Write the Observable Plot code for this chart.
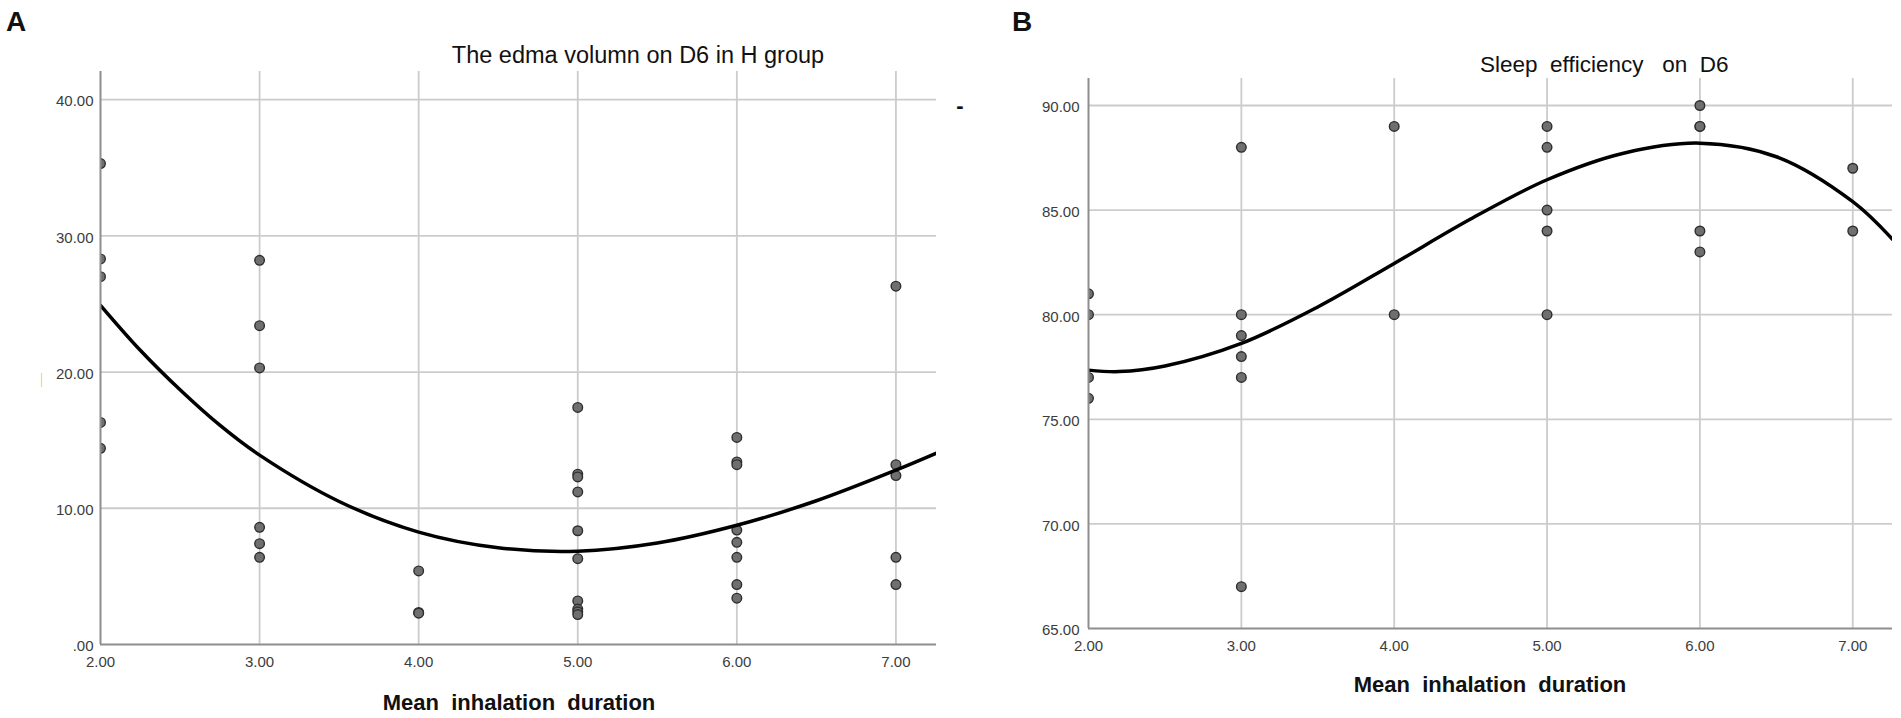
<!DOCTYPE html>
<html><head><meta charset="utf-8">
<script src="https://cdn.jsdelivr.net/npm/d3@7"></script>
<script src="https://cdn.jsdelivr.net/npm/@observablehq/plot@0.6"></script>
<style>
html,body{margin:0;padding:0;background:#fff;}
#wrap{position:relative;width:1901px;height:718px;overflow:hidden;font-family:"Liberation Sans",Arial,sans-serif;}
#wrap > svg{position:absolute;}
</style></head><body><div id="wrap"></div>
<script>
// ---- data ----
const durations = [2, 3, 4, 5, 6, 7];
const xTickLabels = ["2.00", "3.00", "4.00", "5.00", "6.00", "7.00"];

const yTicksA = [0, 10, 20, 30, 40];
const yTickLabelsA = [".00", "10.00", "20.00", "30.00", "40.00"];
const yTicksB = [65, 70, 75, 80, 85, 90];
const yTickLabelsB = ["65.00", "70.00", "75.00", "80.00", "85.00", "90.00"];

// edema volume on D6 (H group), one list per duration
const edemaA = [
  [35.3, 28.3, 27.0, 16.3, 14.4],
  [28.2, 23.4, 20.3, 8.6, 7.4, 6.4],
  [5.4, 2.35, 2.3],
  [17.4, 12.5, 12.3, 11.2, 8.35, 6.3, 3.2, 2.6, 2.4, 2.2],
  [15.2, 13.4, 13.2, 8.4, 7.5, 6.4, 4.4, 3.4],
  [26.3, 13.2, 12.4, 6.4, 4.4]
];
// sleep efficiency on D6
const sleepB = [
  [81, 80, 77, 76],
  [88, 80, 79, 78, 77, 67],
  [89, 80],
  [89, 88, 85, 84, 80],
  [90, 89, 89, 84, 83],
  [87, 84]
];
// fitted curves
const fitXA = [2, 2.25, 2.5, 2.75, 3, 3.5, 4, 4.5, 5, 5.5, 6, 6.5, 7, 7.255];
const fitYA = [24.9, 21.6, 18.7, 16.1, 13.9, 10.5, 8.25, 7.1, 6.85, 7.45, 8.75, 10.55, 12.8, 14.05];
const fitXB = [2, 2.2, 2.5, 3, 3.5, 4, 4.5, 5, 5.5, 6, 6.5, 7, 7.26];
const fitYB = [77.35, 77.28, 77.55, 78.63, 80.37, 82.45, 84.57, 86.45, 87.72, 88.2, 87.55, 85.4, 83.6];

// ---- build ----
const FONT = '"Liberation Sans", Arial, sans-serif';
const toRows = (groups) => groups.flatMap((vals, i) => vals.map(v => ({x: durations[i], y: v})));
const fitRows = (xs, ys) => xs.map((x, i) => ({x, y: ys[i]}));

function panel({width, height, margins, xDomain, yDomain, yTicks, yLabels, points, fit, yPad}) {
  return Plot.plot({
    width, height,
    marginLeft: margins[0], marginRight: margins[1], marginTop: margins[2], marginBottom: margins[3],
    style: {fontFamily: FONT, fontSize: "15px", color: "#3c3c3c", background: "transparent", overflow: "visible"},
    x: {domain: xDomain},
    y: {domain: yDomain},
    marks: [
      Plot.gridX(durations.slice(1), {stroke: "#cccccc", strokeOpacity: 1, strokeWidth: 1.8}),
      Plot.gridY(yTicks.slice(1), {stroke: "#cccccc", strokeOpacity: 1, strokeWidth: 1.8}),
      Plot.axisX(durations, {tickSize: 0, tickPadding: 12, label: null, fontSize: 15,
        tickFormat: d => xTickLabels[durations.indexOf(d)]}),
      Plot.axisY(yTicks, {tickSize: 0, tickPadding: yPad, label: null, fontSize: 15, dy: 2,
        tickFormat: d => yLabels[yTicks.indexOf(d)]}),
      Plot.dot(points, {x: "x", y: "y", r: 4.8, fill: "#6f6f6f", stroke: "#2e2e2e", strokeWidth: 1.4, clip: true}),
      Plot.line(fit, {x: "x", y: "y", curve: "catmull-rom", stroke: "#000", strokeWidth: 3.5, clip: true}),
      Plot.ruleX([xDomain[0]], {stroke: "#8e8e8e", strokeWidth: 2}),
      Plot.ruleY([yDomain[0]], {stroke: "#8e8e8e", strokeWidth: 2})
    ]
  });
}

const wrap = document.getElementById("wrap");

const plotA = panel({
  width: 960, height: 718, margins: [100, 24, 71, 74],
  xDomain: [2, 7.255], yDomain: [0, 42.06],
  yTicks: yTicksA, yLabels: yTickLabelsA, yPad: 7,
  points: toRows(edemaA), fit: fitRows(fitXA, fitYA)
});
plotA.style.left = "0px"; plotA.style.top = "0px";
wrap.appendChild(plotA);

const plotB = panel({
  width: 941, height: 718, margins: [128, 9, 78, 90],
  xDomain: [2, 7.26], yDomain: [65, 91.29],
  yTicks: yTicksB, yLabels: yTickLabelsB, yPad: 9,
  points: toRows(sleepB), fit: fitRows(fitXB, fitYB)
});
plotB.style.left = "960px"; plotB.style.top = "0px";
wrap.appendChild(plotB);

// ---- text overlay ----
const svg = d3.select(wrap).append("svg")
  .attr("width", 1901).attr("height", 718)
  .style("left", "0px").style("top", "0px")
  .style("pointer-events", "none")
  .attr("font-family", FONT);

const texts = [
  {t: "A", x: 6, y: 31, size: 28, weight: "bold", anchor: "start"},
  {t: "B", x: 1012, y: 31, size: 28, weight: "bold", anchor: "start"},
  {t: "The edma volumn on D6 in H group", x: 638, y: 63, size: 23.5, weight: "normal", anchor: "middle"},
  {t: "Sleep  efficiency   on  D6", x: 1480, y: 72, size: 22.5, weight: "normal", anchor: "start"},
  {t: "Mean  inhalation  duration", x: 519, y: 710, size: 22, weight: "bold", anchor: "middle"},
  {t: "Mean  inhalation  duration", x: 1490, y: 692, size: 22, weight: "bold", anchor: "middle"},
  {t: "-", x: 960, y: 113, size: 22, weight: "bold", anchor: "middle"}
];
svg.selectAll("text.lbl").data(texts).join("text")
  .attr("class", "lbl")
  .attr("x", d => d.x).attr("y", d => d.y)
  .attr("font-size", d => d.size).attr("font-weight", d => d.weight)
  .attr("text-anchor", d => d.anchor)
  .attr("fill", "#111")
  .attr("xml:space", "preserve")
  .style("white-space", "pre")
  .text(d => d.t);

// small yellow artefact left of panel A
svg.append("line").attr("x1", 41.5).attr("x2", 41.5).attr("y1", 373).attr("y2", 387)
  .attr("stroke", "#f0dc6a").attr("stroke-width", 1.2);
</script>
</body></html>
